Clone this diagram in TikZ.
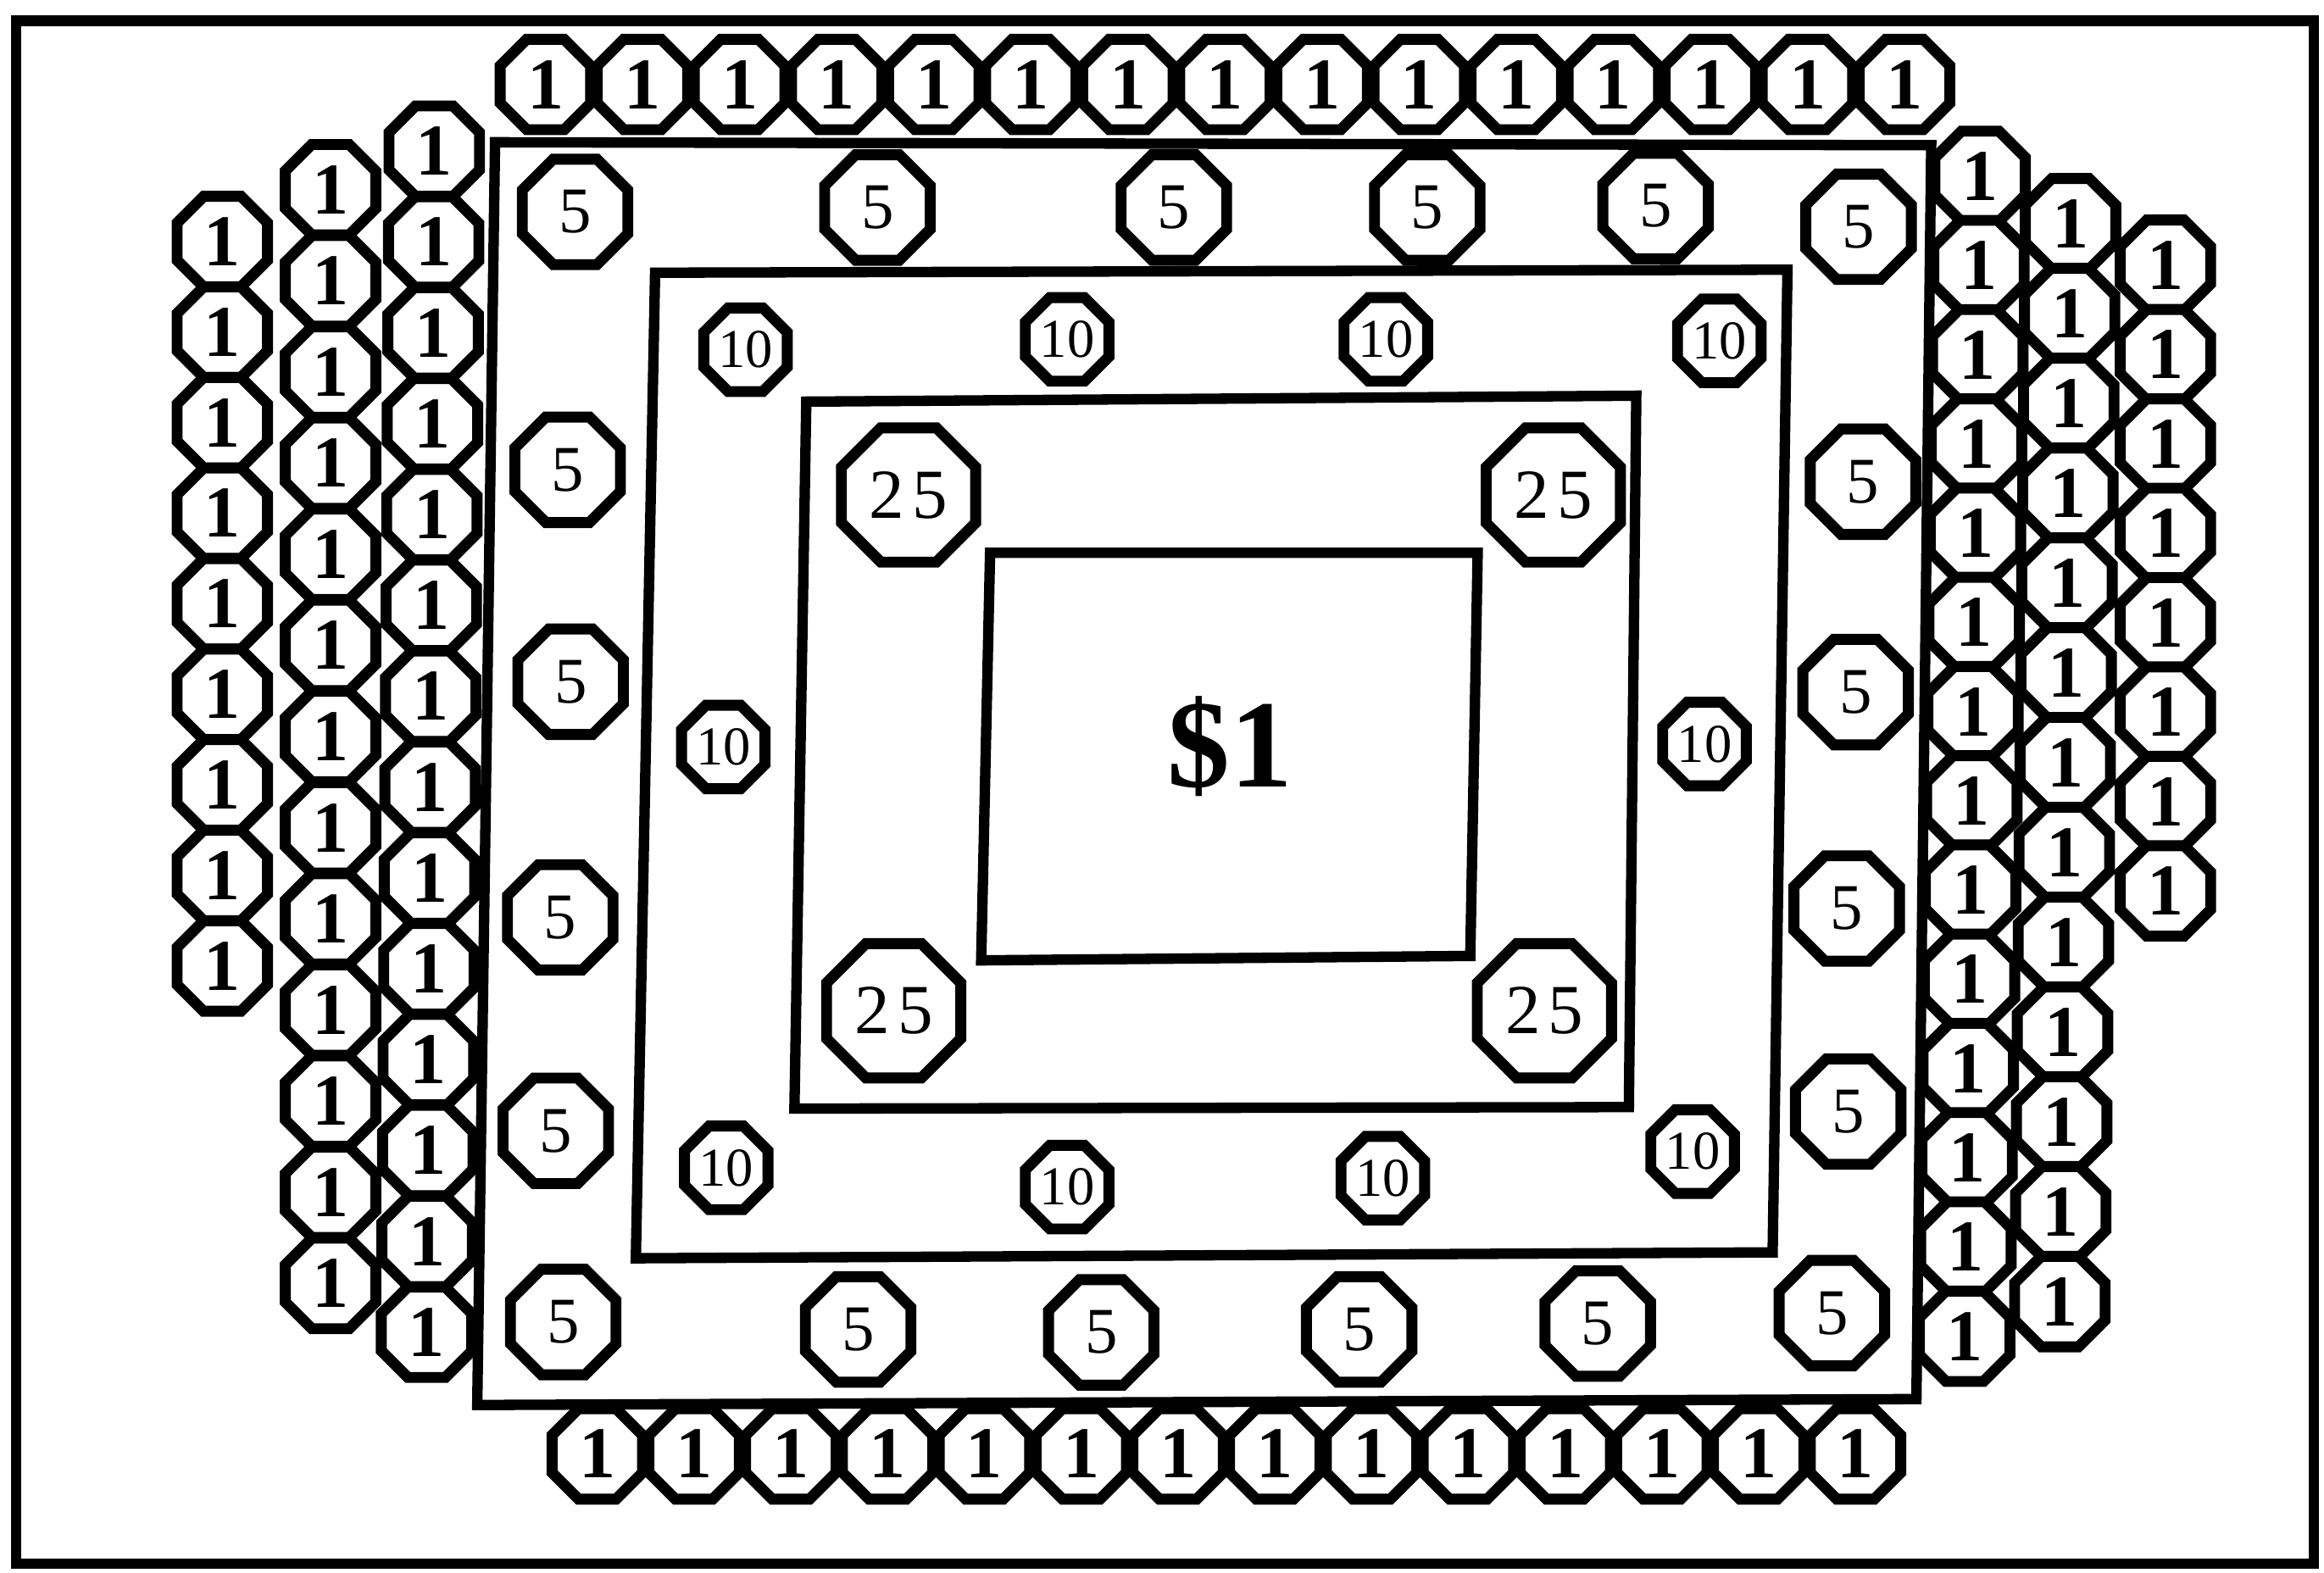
\documentclass[tikz,border=0pt]{standalone}
\usepackage{fontspec}
\setmainfont{Liberation Serif}
\usetikzlibrary{shapes.geometric}

\begin{document}
\begin{tikzpicture}[x=0.01cm,y=-0.01cm,
  coin/.style={regular polygon,regular polygon sides=8,draw,fill=white,line width=2.1pt,inner sep=0pt},
  penny/.style={coin,minimum size=0.66cm,font=\bfseries\fontsize{14}{14}\selectfont},
  nickel/.style={coin,minimum size=0.77cm,font=\fontsize{12.5}{12.5}\selectfont},
  dime/.style={coin,minimum size=0.61cm,font=\fontsize{10.5}{10.5}\selectfont},
  quarter/.style={coin,minimum size=0.98cm,font=\fontsize{13.5}{13.5}\selectfont},
  box/.style={line width=2pt}]
\useasboundingbox (0,0) rectangle (1568,1061);
\draw[line width=2pt] (11,14) rectangle (1561,1055);
% the four frames
\draw[box] (334,96) -- (1303,98) -- (1293,944) -- (322,948) -- cycle;
\draw[box] (442,184) -- (1206,182) -- (1196,845) -- (429,849) -- cycle;
\draw[box] (544,271) -- (1104,267) -- (1099,747) -- (536,748) -- cycle;
\draw[box] (668,373) -- (997,373) -- (992,645) -- (662,648) -- cycle;
\node[anchor=base,font=\bfseries\fontsize{24}{24}\selectfont] (dollar) at (830,531) {\$1};
% pennies
\foreach \i in {0,...,14} \node[penny] (top\i) at ({368+65.5*\i},57) {1};
\foreach \i in {0,...,13} \node[penny] (bot\i) at ({403+65.3*\i},981) {1};
\foreach \i in {0,...,8} \node[penny] (lfa\i) at (150,{163+61.1*\i}) {1};
\foreach \i in {0,...,12} \node[penny] (lfb\i) at (223,{128+61.5*\i}) {1};
\foreach \i in {0,...,13} \node[penny] (lfc\i) at ({293-0.4*\i},{102+61.3*\i}) {1};
\foreach \i in {0,...,13} \node[penny] (rtc\i) at ({1336-0.8*\i},{119+60.2*\i}) {1};
\foreach \i in {0,...,12} \node[penny] (rtb\i) at ({1397-0.6*\i},{151+60.6*\i}) {1};
\foreach \i in {0,...,7} \node[penny] (rta\i) at (1461,{179+60.3*\i}) {1};
% nickels
\node[nickel] (n1) at (388,143) {5};
\node[nickel] (n2) at (592,140) {5};
\node[nickel] (n3) at (792,140) {5};
\node[nickel] (n4) at (963,140) {5};
\node[nickel] (n5) at (1117,139) {5};
\node[nickel] (n6) at (1254,153) {5};
\node[nickel] (n7) at (383,317) {5};
\node[nickel] (n8) at (385,460) {5};
\node[nickel] (n9) at (378,619) {5};
\node[nickel] (n10) at (375,763) {5};
\node[nickel] (n11) at (1257,325) {5};
\node[nickel] (n12) at (1252,467) {5};
\node[nickel] (n13) at (1246,613) {5};
\node[nickel] (n14) at (1247,750) {5};
\node[nickel] (n15) at (380,892) {5};
\node[nickel] (n16) at (579,897) {5};
\node[nickel] (n17) at (743,899) {5};
\node[nickel] (n18) at (917,897) {5};
\node[nickel] (n19) at (1078,893) {5};
\node[nickel] (n20) at (1236,886) {5};
% dimes
\node[dime] (d1) at (503,236) {10};
\node[dime] (d2) at (720,229) {10};
\node[dime] (d3) at (935,229) {10};
\node[dime] (d4) at (1160,230) {10};
\node[dime] (d5) at (488,504) {10};
\node[dime] (d6) at (1150,502) {10};
\node[dime] (d7) at (490,788) {10};
\node[dime] (d8) at (720,801) {10};
\node[dime] (d9) at (933,795) {10};
\node[dime] (d10) at (1142,777) {10};
% quarters
\node[quarter] (q1) at (613,334) {2\kern1.5pt5};
\node[quarter] (q2) at (1048,334) {2\kern1.5pt5};
\node[quarter] (q3) at (603,682) {2\kern1.5pt5};
\node[quarter] (q4) at (1042,682) {2\kern1.5pt5};
\end{tikzpicture}
\end{document}
